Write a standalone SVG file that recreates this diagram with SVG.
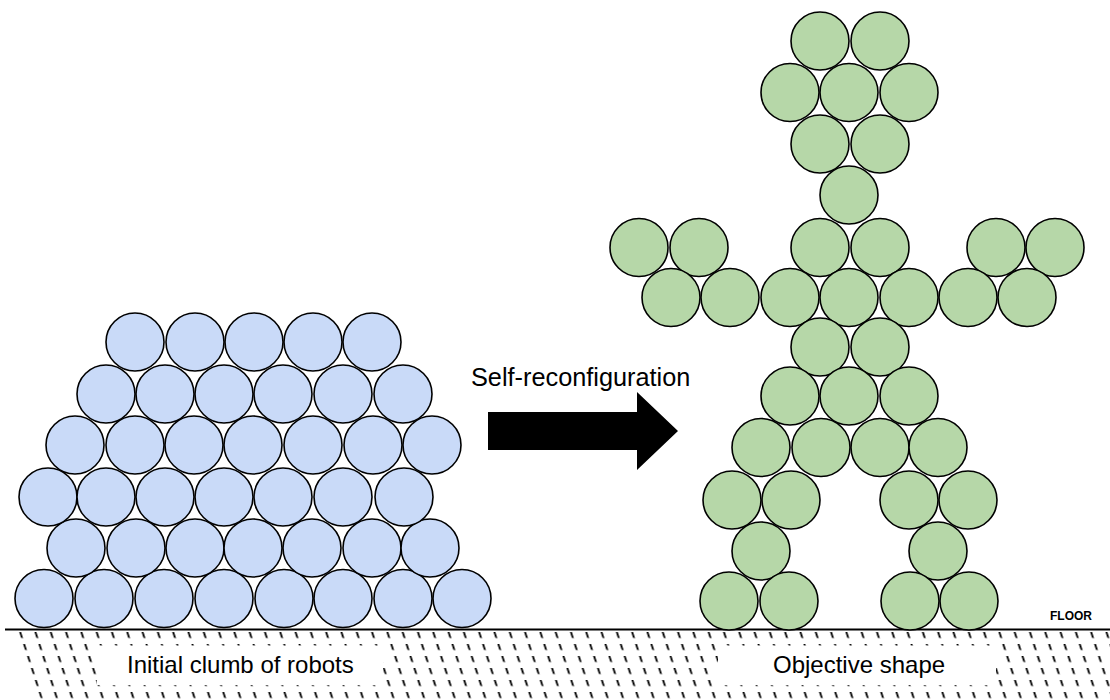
<svg xmlns="http://www.w3.org/2000/svg" width="1110" height="700" viewBox="0 0 1110 700">
  <style>
    .blue { fill: #c9daf8; stroke: #000; stroke-width: 1.6; }
    .green { fill: #b6d7a8; stroke: #000; stroke-width: 1.6; }
    .label { font-family: "Liberation Sans", Arial, sans-serif; fill: #000; }
  </style>
  <defs>
    <!-- short vertical dashes; the group holding them is skewed so they lean -->
    <pattern id="hatch" patternUnits="userSpaceOnUse" x="3" y="1" width="15.3" height="12">
      <line x1="1.5" y1="0" x2="1.5" y2="6" stroke="#000" stroke-width="1.9"/>
    </pattern>
  </defs>

  <rect width="1110" height="700" fill="#fff"/>

  <!-- ground -->
  <g id="floor">
    <g transform="translate(0,631) skewX(18)">
      <rect x="18" y="0" width="1120" height="69" fill="url(#hatch)"/>
    </g>
    <line x1="5" y1="629.5" x2="1110" y2="629.5" stroke="#000" stroke-width="2"/>
    <text class="label" x="1050" y="620" font-size="12" font-weight="bold">FLOOR</text>
  </g>

  <!-- captions under each shape -->
  <g id="label-initial">
    <rect x="97" y="645.5" width="286" height="39.5" fill="#fff"/>
    <text class="label" x="127" y="673" font-size="24">Initial clumb of robots</text>
  </g>
  <g id="label-objective">
    <rect x="718" y="645.5" width="278" height="39.5" fill="#fff"/>
    <text class="label" x="773" y="673" font-size="24">Objective shape</text>
  </g>

  <!-- starting heap of robots -->
  <g id="initial-clump">
    <circle class="blue" cx="44" cy="598.5" r="29"/>
    <circle class="blue" cx="104" cy="598.5" r="29"/>
    <circle class="blue" cx="164" cy="598.5" r="29"/>
    <circle class="blue" cx="224" cy="598.5" r="29"/>
    <circle class="blue" cx="284" cy="598.5" r="29"/>
    <circle class="blue" cx="343" cy="598.5" r="29"/>
    <circle class="blue" cx="403" cy="598.5" r="29"/>
    <circle class="blue" cx="462" cy="598.5" r="29"/>

    <circle class="blue" cx="76" cy="548" r="29"/>
    <circle class="blue" cx="136" cy="548" r="29"/>
    <circle class="blue" cx="195" cy="548" r="29"/>
    <circle class="blue" cx="253" cy="548" r="29"/>
    <circle class="blue" cx="312" cy="548" r="29"/>
    <circle class="blue" cx="372" cy="548" r="29"/>
    <circle class="blue" cx="430" cy="548" r="29"/>

    <circle class="blue" cx="48" cy="497" r="29"/>
    <circle class="blue" cx="106" cy="497" r="29"/>
    <circle class="blue" cx="165" cy="497" r="29"/>
    <circle class="blue" cx="224" cy="497" r="29"/>
    <circle class="blue" cx="283" cy="497" r="29"/>
    <circle class="blue" cx="343" cy="497" r="29"/>
    <circle class="blue" cx="404" cy="497" r="29"/>

    <circle class="blue" cx="75" cy="445" r="29"/>
    <circle class="blue" cx="135" cy="445" r="29"/>
    <circle class="blue" cx="194" cy="445" r="29"/>
    <circle class="blue" cx="253" cy="445" r="29"/>
    <circle class="blue" cx="313" cy="445" r="29"/>
    <circle class="blue" cx="373" cy="445" r="29"/>
    <circle class="blue" cx="432" cy="445" r="29"/>

    <circle class="blue" cx="106" cy="394" r="29"/>
    <circle class="blue" cx="165" cy="394" r="29"/>
    <circle class="blue" cx="224" cy="394" r="29"/>
    <circle class="blue" cx="283" cy="394" r="29"/>
    <circle class="blue" cx="343" cy="394" r="29"/>
    <circle class="blue" cx="403" cy="394" r="29"/>

    <circle class="blue" cx="135" cy="342" r="29"/>
    <circle class="blue" cx="195" cy="342" r="29"/>
    <circle class="blue" cx="254" cy="342" r="29"/>
    <circle class="blue" cx="313" cy="342" r="29"/>
    <circle class="blue" cx="372" cy="342" r="29"/>
  </g>

  <!-- transition arrow -->
  <g id="connectors">
    <text class="label" x="471" y="386" font-size="25.3">Self-reconfiguration</text>
    <polygon points="488,412 637,412 637,392 678,431 637,470 637,450 488,450" fill="#000"/>
  </g>

  <!-- target humanoid figure -->
  <g id="objective-shape">
    <!-- head -->
    <circle class="green" cx="820" cy="41" r="29"/>
    <circle class="green" cx="880" cy="41" r="29"/>
    <circle class="green" cx="790" cy="92.5" r="29"/>
    <circle class="green" cx="849" cy="92.5" r="29"/>
    <circle class="green" cx="909" cy="92.5" r="29"/>
    <circle class="green" cx="820" cy="144" r="29"/>
    <circle class="green" cx="880" cy="144" r="29"/>
    <!-- neck -->
    <circle class="green" cx="849" cy="195" r="29"/>
    <!-- shoulders and hands -->
    <circle class="green" cx="639" cy="247.5" r="29"/>
    <circle class="green" cx="699" cy="247.5" r="29"/>
    <circle class="green" cx="820" cy="247.5" r="29"/>
    <circle class="green" cx="880" cy="247.5" r="29"/>
    <circle class="green" cx="996" cy="247.5" r="29"/>
    <circle class="green" cx="1055" cy="247.5" r="29"/>
    <!-- arms -->
    <circle class="green" cx="671" cy="297.5" r="29"/>
    <circle class="green" cx="730" cy="297.5" r="29"/>
    <circle class="green" cx="790" cy="297.5" r="29"/>
    <circle class="green" cx="849" cy="297.5" r="29"/>
    <circle class="green" cx="909" cy="297.5" r="29"/>
    <circle class="green" cx="968" cy="297.5" r="29"/>
    <circle class="green" cx="1027" cy="297.5" r="29"/>
    <!-- torso -->
    <circle class="green" cx="820" cy="347" r="29"/>
    <circle class="green" cx="880" cy="347" r="29"/>
    <circle class="green" cx="790" cy="396" r="29"/>
    <circle class="green" cx="849" cy="396" r="29"/>
    <circle class="green" cx="909" cy="396" r="29"/>
    <circle class="green" cx="761" cy="447.5" r="29"/>
    <circle class="green" cx="821" cy="447.5" r="29"/>
    <circle class="green" cx="880" cy="447.5" r="29"/>
    <circle class="green" cx="938" cy="447.5" r="29"/>
    <!-- legs -->
    <circle class="green" cx="732" cy="500" r="29"/>
    <circle class="green" cx="791" cy="500" r="29"/>
    <circle class="green" cx="909" cy="500" r="29"/>
    <circle class="green" cx="968" cy="500" r="29"/>
    <circle class="green" cx="761" cy="551" r="29"/>
    <circle class="green" cx="938" cy="551" r="29"/>
    <circle class="green" cx="729" cy="601" r="29"/>
    <circle class="green" cx="789" cy="601" r="29"/>
    <circle class="green" cx="910" cy="601" r="29"/>
    <circle class="green" cx="969" cy="601" r="29"/>
  </g>
</svg>
